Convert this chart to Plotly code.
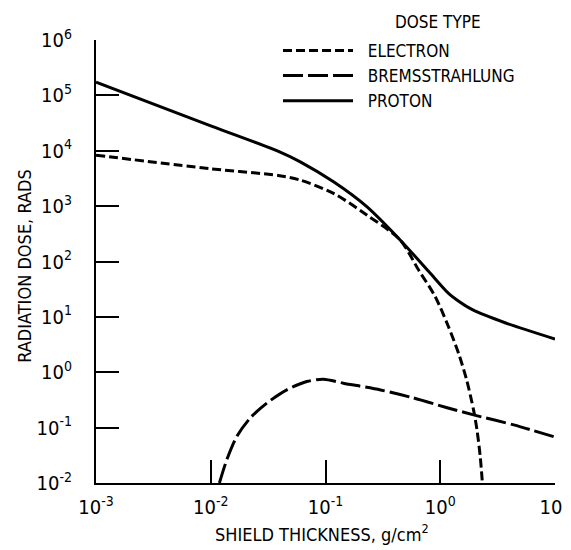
import plotly.graph_objects as go

# Shield thickness, g/cm^2  ->  radiation dose, rads
proton_x = [0.001, 0.01, 0.0398, 0.0603, 0.1175, 0.229, 0.447, 0.794, 1.175, 1.48, 1.905, 3.72, 10.0]
proton_y = [1.74e5, 2.82e4, 9.55e3, 6.31e3, 2.75e3, 977, 245, 66, 26.9, 18.6, 13.5, 7.76, 3.98]

electron_x = [0.001, 0.01, 0.0398, 0.0603, 0.1175, 0.229, 0.447, 0.646, 0.902, 1.175, 1.445, 1.70, 1.95, 2.09, 2.23, 2.33]
electron_y = [8.3e3, 4.73e3, 3.55e3, 2.95e3, 1.70e3, 692, 245, 70.8, 23.4, 6.76, 2.19, 0.72, 0.209, 0.091, 0.030, 0.0100]

brems_x = [0.0119, 0.0138, 0.01687, 0.0220, 0.0308, 0.046, 0.0687, 0.0959, 0.143, 0.302, 0.575, 1.148, 1.95, 4.37, 10.0]
brems_y = [0.0100, 0.0263, 0.0692, 0.148, 0.277, 0.481, 0.679, 0.750, 0.635, 0.479, 0.347, 0.229, 0.170, 0.112, 0.0676]

x_tickvals = [0.001, 0.01, 0.1, 1, 10]
x_ticktext = ["10<sup>-3</sup>", "10<sup>-2</sup>", "10<sup>-1</sup>", "10<sup>0</sup>", "10<sup>1</sup>"]
y_tickvals = [0.01, 0.1, 1, 10, 100, 1e3, 1e4, 1e5, 1e6]
y_ticktext = ["10<sup>-2</sup>", "10<sup>-1</sup>", "10<sup>0</sup>", "10<sup>1</sup>", "10<sup>2</sup>",
              "10<sup>3</sup>", "10<sup>4</sup>", "10<sup>5</sup>", "10<sup>6</sup>"]

FONT = "DejaVu Sans Condensed, DejaVu Sans, sans-serif"
PAD = "\u00a0\u00a0"  # small gap between legend key and label

fig = go.Figure()
fig.add_trace(go.Scatter(x=electron_x, y=electron_y, mode="lines", name=PAD + "ELECTRON",
                         line=dict(color="black", width=3, dash="9px,4px", shape="spline", smoothing=0.8)))
fig.add_trace(go.Scatter(x=brems_x, y=brems_y, mode="lines", name=PAD + "BREMSSTRAHLUNG",
                         line=dict(color="black", width=3, dash="20px,5px", shape="spline", smoothing=0.8)))
fig.add_trace(go.Scatter(x=proton_x, y=proton_y, mode="lines", name=PAD + "PROTON",
                         line=dict(color="black", width=3, shape="spline", smoothing=0.8)))

# the page body adds an 8px margin, so the figure is 8px smaller than the window
fig.update_layout(
    width=563, height=542,
    margin=dict(l=88, r=16, t=32, b=67, autoexpand=False),
    paper_bgcolor="white", plot_bgcolor="white",
    font=dict(family=FONT, size=18, color="black"),
    showlegend=True,
    legend=dict(
        xref="container", yref="container",
        x=0.4796, y=0.954, xanchor="left", yanchor="top",
        font=dict(size=17), bgcolor="rgba(0,0,0,0)", tracegroupgap=0,
        itemwidth=70,
    ),
    xaxis=dict(
        type="log", range=[-3, 1], tickvals=x_tickvals, ticktext=x_ticktext,
        showgrid=False, zeroline=False, showline=True, linecolor="black", linewidth=2,
        ticks="inside", ticklen=23, tickwidth=2, tickcolor="black",
        tickfont=dict(size=20), ticklabelstandoff=5, automargin=False,
        ticklabeloverflow="allow",
    ),
    yaxis=dict(
        type="log", range=[-2, 6], tickvals=y_tickvals, ticktext=y_ticktext,
        showgrid=False, zeroline=False, showline=True, linecolor="black", linewidth=2,
        ticks="inside", ticklen=23, tickwidth=2, tickcolor="black",
        tickfont=dict(size=20), ticklabelstandoff=18, automargin=False,
        ticklabeloverflow="allow",
    ),
    annotations=[
        dict(text="DOSE TYPE", xref="paper", yref="paper",
             x=0.745, y=1.041, xanchor="center", yanchor="middle", showarrow=False,
             font=dict(size=17)),
        dict(text="SHIELD THICKNESS, g/cm<sup>2</sup>", xref="paper", yref="paper",
             x=0.492, y=-0.113, xanchor="center", yanchor="middle", showarrow=False,
             font=dict(size=18)),
        dict(text="RADIATION DOSE, RADS", xref="paper", yref="paper", textangle=-90,
             x=-0.155, y=0.49, xanchor="center", yanchor="middle", showarrow=False,
             font=dict(size=18)),
    ],
)

fig.write_html("out.html")
